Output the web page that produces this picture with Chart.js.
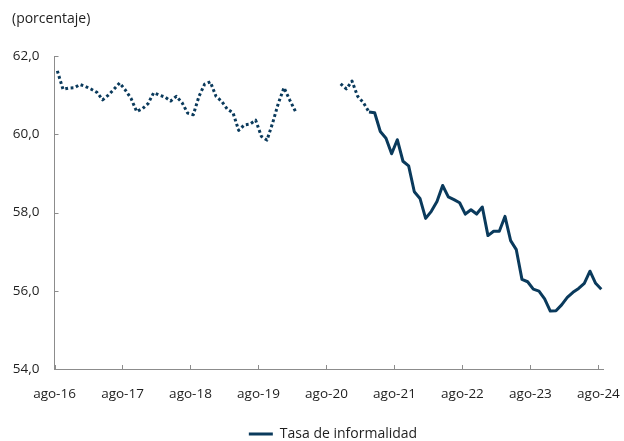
<!DOCTYPE html>
<html>
<head>
<meta charset="utf-8">
<script src="https://cdn.jsdelivr.net/npm/chart.js@4/dist/chart.umd.min.js"></script>
<style>
html,body{margin:0;padding:0;background:#fff;}
#wrap{width:624px;height:441px;position:relative;}
</style>
</head>
<body>
<div id="wrap"><canvas id="c" width="624" height="441"></canvas></div>
<script>
// ---- Data (monthly, mid-month observations) ----
const categories = [
  'ago-16','sep-16','oct-16','nov-16','dic-16','ene-17','feb-17','mar-17','abr-17','may-17','jun-17','jul-17',
  'ago-17','sep-17','oct-17','nov-17','dic-17','ene-18','feb-18','mar-18','abr-18','may-18','jun-18','jul-18',
  'ago-18','sep-18','oct-18','nov-18','dic-18','ene-19','feb-19','mar-19','abr-19','may-19','jun-19','jul-19',
  'ago-19','sep-19','oct-19','nov-19','dic-19','ene-20','feb-20','mar-20','abr-20','may-20','jun-20','jul-20',
  'ago-20','sep-20','oct-20','nov-20','dic-20','ene-21','feb-21','mar-21','abr-21','may-21','jun-21','jul-21',
  'ago-21','sep-21','oct-21','nov-21','dic-21','ene-22','feb-22','mar-22','abr-22','may-22','jun-22','jul-22',
  'ago-22','sep-22','oct-22','nov-22','dic-22','ene-23','feb-23','mar-23','abr-23','may-23','jun-23','jul-23',
  'ago-23','sep-23','oct-23','nov-23','dic-23','ene-24','feb-24','mar-24','abr-24','may-24','jun-24','jul-24',
  'ago-24'
];
const tasaInformalidad = [
  61.62, 61.15, 61.18, 61.19, 61.27, 61.22, 61.15, 61.07, 60.88, 61.00, 61.15, 61.31,
  61.13, 60.92, 60.58, 60.65, 60.78, 61.06, 61.00, 60.95, 60.85, 60.97, 60.81, 60.54,
  60.50, 60.97, 61.28, 61.34, 60.97, 60.84, 60.64, 60.55, 60.10, 60.24, 60.26, 60.36,
  59.95, 59.85, 60.29, 60.79, 61.19, 60.88, 60.59, null, null, null, null, null,
  null, null, 61.29, 61.16, 61.36, 60.97, 60.81, 60.57, 60.55, 60.07, 59.90, 59.50,
  59.86, 59.31, 59.19, 58.53, 58.36, 57.85, 58.03, 58.28, 58.69, 58.40, 58.33, 58.25,
  57.96, 58.07, 57.96, 58.14, 57.41, 57.52, 57.52, 57.90, 57.28, 57.05, 56.29, 56.23,
  56.04, 55.99, 55.79, 55.48, 55.49, 55.64, 55.83, 55.96, 56.06, 56.19, 56.50, 56.19,
  56.04
];
const tickLabels = ['ago-16','ago-17','ago-18','ago-19','ago-20','ago-21','ago-22','ago-23','ago-24'];
const yTickValues = [54, 56, 58, 60, 62];
const lastDottedCategory = 'mar-21';
const seriesLabel = 'Tasa de informalidad';
const unitLabel = '(porcentaje)';

// ---- Styles ----
const LINE = '#0a3a5c';
const AXIS = '#8c8c8c';
const TXT = '#1e1e1e';
const FONT = '"Open Sans", "Noto Sans", sans-serif';

const dottedEnd = categories.indexOf(lastDottedCategory);
const points = tasaInformalidad.map((v, i) => ({ x: i + 0.5, y: v }));
const tickPositions = tickLabels.map(l => categories.indexOf(l));

const unitTitle = {
  id: 'unitTitle',
  afterDraw(chart) {
    const c = chart.ctx;
    c.save();
    c.font = '14px ' + FONT;
    c.fillStyle = TXT;
    c.textBaseline = 'middle';
    c.textAlign = 'left';
    c.fillText(unitLabel, 12, 19);
    c.restore();
  }
};

const innerTicks = {
  id: 'innerTicks',
  afterDraw(chart) {
    const { ctx: c, chartArea: a, scales: { x, y } } = chart;
    c.save();
    c.strokeStyle = AXIS;
    c.lineWidth = 1;
    c.beginPath();
    x.ticks.forEach(t => {
      const px = Math.round(x.getPixelForValue(t.value)) + 0.5;
      c.moveTo(px, a.bottom); c.lineTo(px, a.bottom - 4);
    });
    y.ticks.forEach(t => {
      const py = Math.round(y.getPixelForValue(t.value)) + 0.5;
      c.moveTo(a.left, py); c.lineTo(a.left + 4, py);
    });
    c.stroke();
    c.restore();
  }
};

// place the legend: centred at x≈333, text centre at y≈434
const legendPlacement = {
  id: 'legendPlacement',
  afterLayout(chart) {
    const lg = chart.legend;
    if (!lg) return;
    const dx = 333 - (lg.left + lg.right) / 2;
    const dy = 434 - (lg.top + 5 + 7);
    lg.left += dx; lg.right += dx;
    lg.top += dy; lg.bottom += dy;
  }
};

new Chart(document.getElementById('c'), {
  type: 'line',
  data: {
    datasets: [{
      label: seriesLabel,
      data: points,
      borderColor: LINE,
      backgroundColor: LINE,
      borderWidth: 3,
      pointRadius: 0,
      pointHoverRadius: 0,
      tension: 0,
      spanGaps: false,
      clip: 0,
      borderJoinStyle: 'round',
      segment: {
        borderDash: ctx => ctx.p1DataIndex <= dottedEnd ? [2.8, 2.6] : undefined
      }
    }]
  },
  options: {
    responsive: false,
    animation: false,
    devicePixelRatio: 1,
    layout: { padding: { top: 56, right: 21, bottom: 0, left: 0 } },
    plugins: {
      title: { display: false },
      tooltip: { enabled: false },
      legend: {
        display: true,
        position: 'bottom',
        labels: {
          usePointStyle: true,
          pointStyle: 'line',
          pointStyleWidth: 24,
          color: TXT,
          font: { family: FONT, size: 14 },
          padding: 5
        }
      }
    },
    scales: {
      x: {
        type: 'linear',
        min: 0,
        max: 96.8,
        grid: { display: false, drawTicks: false },
        border: { display: true, color: AXIS, width: 1 },
        afterBuildTicks: s => { s.ticks = tickPositions.map(v => ({ value: v })); },
        afterFit: s => { s.height = 441 - 368 - 30; s.paddingRight = 0; s.paddingLeft = 0; },
        ticks: {
          autoSkip: false,
          maxRotation: 0,
          padding: 17,
          color: TXT,
          font: { family: FONT, size: 13.5 },
          callback: v => categories[v]
        }
      },
      y: {
        min: 54,
        max: 62,
        grid: { display: false, drawTicks: false },
        border: { display: true, color: AXIS, width: 1 },
        afterBuildTicks: s => { s.ticks = yTickValues.map(v => ({ value: v })); },
        afterFit: s => { s.width = 54.5; },
        ticks: {
          padding: 15,
          color: TXT,
          font: { family: FONT, size: 13.5 },
          callback: v => v.toFixed(1).replace('.', ',')
        }
      }
    }
  },
  plugins: [unitTitle, innerTicks, legendPlacement]
});
</script>
</body>
</html>
